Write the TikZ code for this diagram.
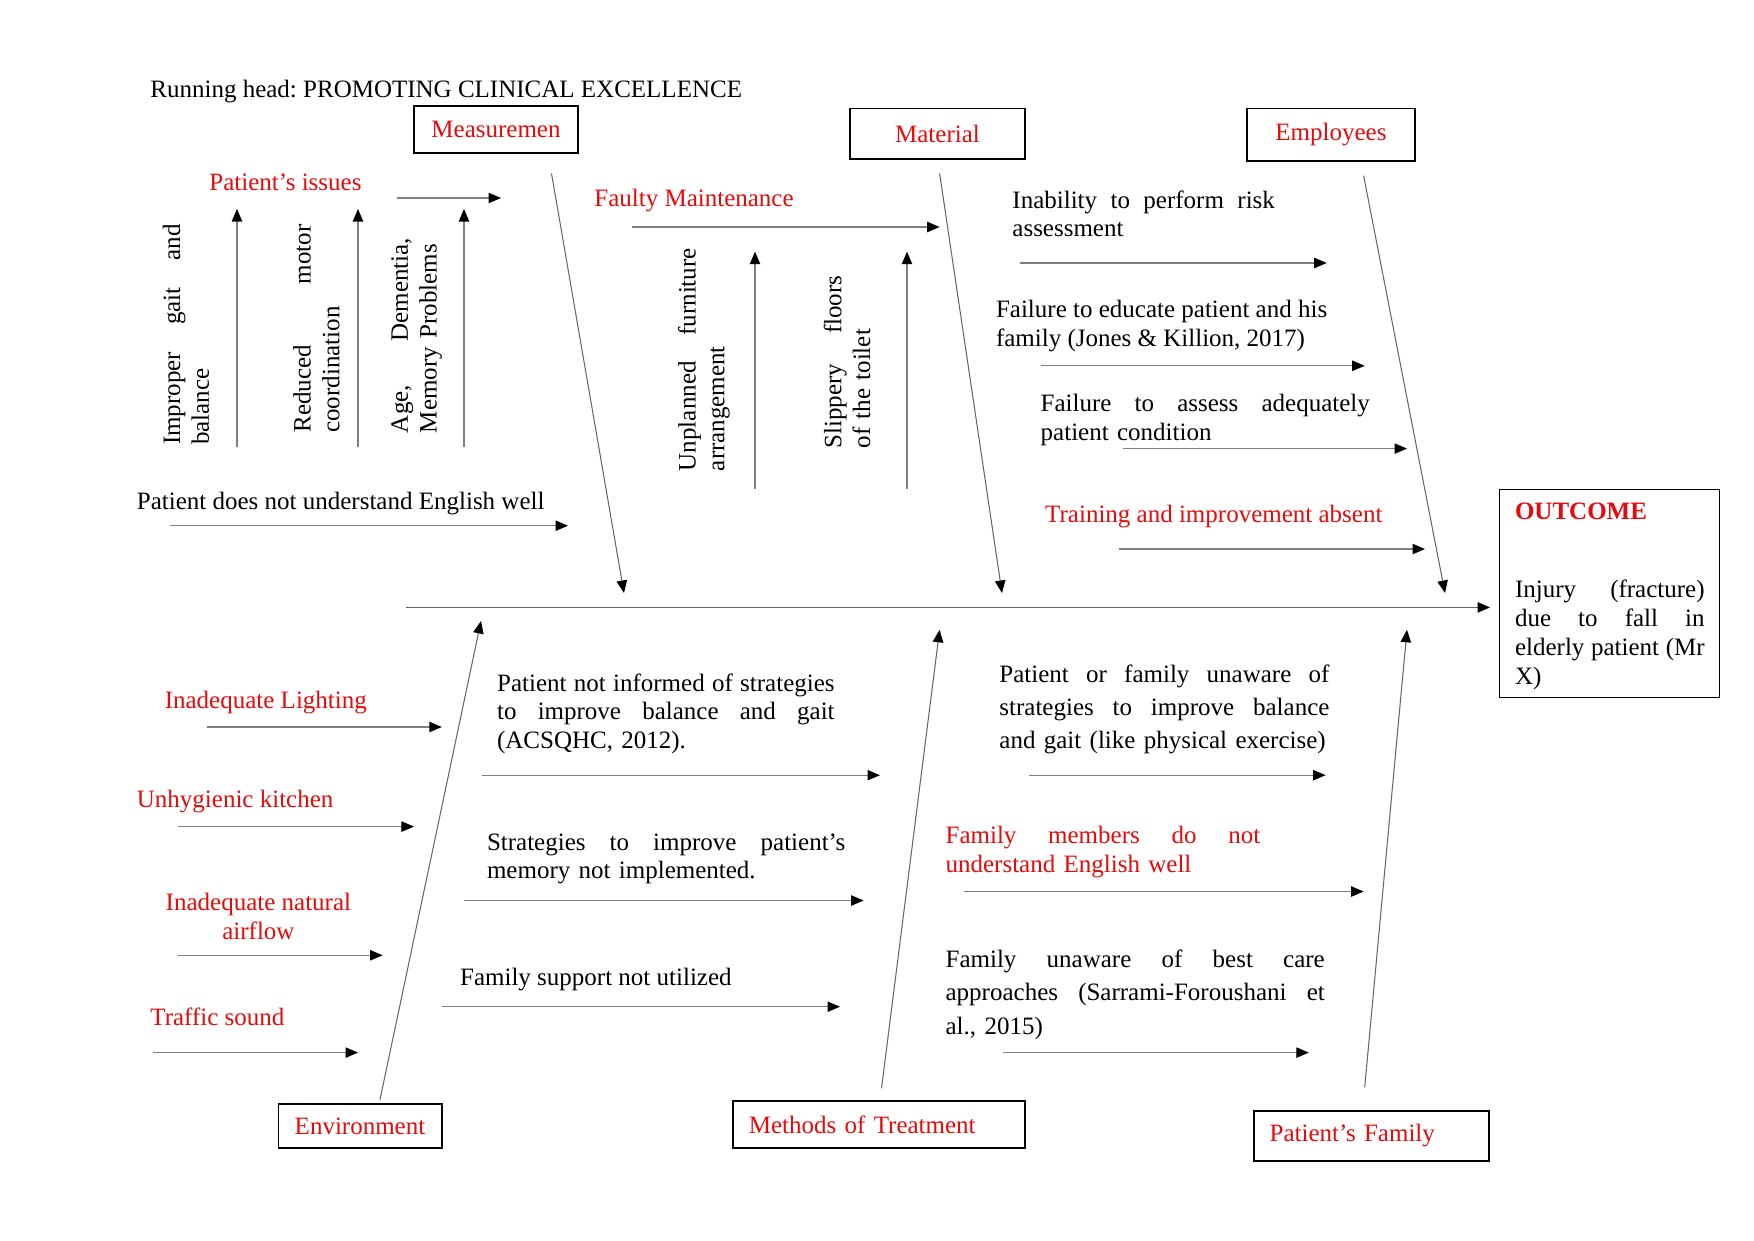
\documentclass[tikz,border=0pt]{standalone}
\usepackage{fontspec}
\setmainfont{Liberation Serif}
\usetikzlibrary{arrows.meta}
\definecolor{fbred}{RGB}{230,10,10}
\newcommand\ft{\fontsize{12}{13.8}\selectfont}
\newcommand\jline[1]{{\spaceskip=0pt\xspaceskip=0pt\makebox[\hsize][s]{#1}}}
\newcommand\harr[4]{\coordinate (#1a) at (#2,#4); \coordinate (#1b) at (#3,#4); \draw[conn] (#1a) -- (#1b);}
\newcommand\varr[4]{\coordinate (#1a) at (#2,#3); \coordinate (#1b) at (#2,#4); \draw[conn] (#1a) -- (#1b);}
\begin{document}
\frenchspacing
\begin{tikzpicture}[x=0.48pt,y=-0.48pt,
  every node/.style={font=\ft, inner sep=0pt},
  conn/.style={draw=black!50, line width=0.5pt, -{Triangle[length=6pt,width=5pt,color=black]}},
  bone/.style={draw=black!60, line width=0.5pt, -{Triangle[length=6pt,width=5pt,color=black]}},
  catbox/.style={draw=black, line width=0.7pt, text=fbred},
  txt/.style={anchor=north west, align=left}]
\useasboundingbox (0,0) rectangle (1754,1241);

% header
\node[anchor=west] (rh) at (150,92) {Running head: PROMOTING CLINICAL EXCELLENCE};

% category boxes
\node[catbox, minimum width=78.7pt, minimum height=22.6pt] (meas) at (496,129.5) {Measuremen};
\node[catbox, minimum width=84pt, minimum height=24.2pt] (mat) at (937.5,133.7) {Material};
\node[catbox, minimum width=80.6pt, minimum height=25.2pt] (emp) at (1331,134.7) {Employees};
\node[catbox, minimum width=78.5pt, minimum height=21pt] (env) at (360,1126) {Environment};
\node[catbox, minimum width=140pt, minimum height=22.6pt, text width=125pt, inner xsep=7.5pt, align=left] (meth) at (879,1124.5) {Methods of Treatment};
\node[catbox, minimum width=112.8pt, minimum height=24pt, text width=97.8pt, inner xsep=7.5pt, align=left] (pfam) at (1371.5,1136) {Patient’s Family};

% outcome
\node[draw, line width=0.7pt, minimum width=105.6pt, minimum height=99.8pt, anchor=north west] (out) at (1499,489) {};
\node[anchor=west, text=fbred, font=\ft\bfseries] (outt) at (1514.6,511) {OUTCOME};
\node[txt, text width=91pt, font=\fontsize{12}{14}\selectfont] (outb) at (1514.6,579.4) {\jline{Injury (fracture)}\\\jline{due to fall in}\\\jline{elderly patient (Mr}\\X)};

% spine
\coordinate (spA) at (406,607.4);
\coordinate (spB) at (1490,607.4);
\draw[bone] (spA) -- (spB);

% bones
\coordinate (b1a) at (551.5,173.4); \coordinate (b1b) at (624,593);
\coordinate (b2a) at (939.6,173.4); \coordinate (b2b) at (1002,593);
\coordinate (b3a) at (1363.6,175.6); \coordinate (b3b) at (1445,593);
\coordinate (b4a) at (380,1099.6); \coordinate (b4b) at (481,621);
\coordinate (b5a) at (881.5,1088.4); \coordinate (b5b) at (939.6,629.8);
\coordinate (b6a) at (1364.7,1087.3); \coordinate (b6b) at (1407,629.8);
\draw[bone] (b1a) -- (b1b);
\draw[bone] (b2a) -- (b2b);
\draw[bone] (b3a) -- (b3b);
\draw[bone] (b4a) -- (b4b);
\draw[bone] (b5a) -- (b5b);
\draw[bone] (b6a) -- (b6b);

% measurement branch
\node[anchor=west, text=fbred] (pi) at (209,182) {Patient’s issues};
\harr{pia}{397}{501}{198}
\varr{v1}{237}{447.4}{209}
\varr{v2}{358}{447.4}{209}
\varr{v3}{464}{447.4}{209}
\node[rotate=90, text width=106pt, align=left] (r1) at (186,334.5) {\jline{Improper gait and}\\balance};
\node[rotate=90, text width=100pt, align=left] (r2) at (316.5,328.5) {\jline{Reduced motor}\\coordination};
\node[rotate=90, text width=93.6pt, align=left] (r3) at (416.7,335.5) {\jline{Age, Dementia,}\\Memory Problems};
\node[anchor=west] (pe) at (136.5,503.5) {Patient does not understand English well};
\harr{pea}{170}{568}{525.7}

% material branch
\node[anchor=west, text=fbred] (fm) at (594,200.5) {Faulty Maintenance};
\harr{fma}{632}{939.6}{227}
\varr{v4}{755}{489}{251.7}
\varr{v5}{907}{489}{251.7}
\node[rotate=90, text width=107pt, align=left] (r4) at (704,359.6) {\jline{Unplanned furniture}\\arrangement};
\node[rotate=90, text width=83pt, align=left] (r5) at (847,362) {\jline{Slippery floors}\\of the toilet};

% employees branch
\node[txt, text width=126pt] (e1) at (1012,190) {\jline{Inability to perform risk}\\assessment};
\harr{ea}{1020}{1326.7}{263}
\node[txt] (e2) at (995.6,299.7) {Failure to educate patient and his\\family (Jones \& Killion, 2017)};
\harr{eb}{1041.4}{1364.7}{365.8}
\node[txt, text width=158pt] (e3) at (1040.3,393.7) {\jline{Failure to assess adequately}\\patient condition};
\harr{ec}{1123}{1407}{448.6}
\node[anchor=west, text=fbred] (e4) at (1044.8,517) {Training and improvement absent};
\harr{ed}{1118.6}{1425}{549}

% environment branch
\node[anchor=west, text=fbred] (n1) at (164.4,702.5) {Inadequate Lighting};
\harr{n1a}{207}{441.8}{727}
\node[anchor=west, text=fbred] (n2) at (136.5,802) {Unhygienic kitchen};
\harr{n2a}{177.9}{413.9}{826.6}
\node[anchor=north, text=fbred, align=center] (n3) at (258.4,892.6) {Inadequate natural\\airflow};
\harr{n3a}{177.9}{382.6}{955.3}
\node[anchor=west, text=fbred] (n4) at (150,1017) {Traffic sound};
\harr{n4a}{153.3}{358}{1052.6}

% methods branch
\node[txt, text width=162pt] (m1) at (496.7,673) {\jline{Patient not informed of strategies}\\\jline{to improve balance and gait}\\(ACSQHC, 2012).};
\harr{m1a}{482}{880}{775.2}
\node[txt, text width=172pt] (m2) at (486.6,833) {\jline{Strategies to improve patient’s}\\memory not implemented.};
\harr{m2a}{464.2}{863.6}{900.5}
\node[anchor=west] (m3) at (459.7,980) {Family support not utilized};
\harr{m3a}{441.8}{840}{1006.7}

% patient's family branch
\node[txt, text width=158.4pt, font=\fontsize{12}{15.85}\selectfont] (f1) at (999,664) {\jline{Patient or family unaware of}\\\jline{strategies to improve balance}\\and gait (like physical exercise)};
\harr{f1a}{1029}{1325.6}{775.2}
\node[txt, text width=151pt, text=fbred] (f2) at (945.2,825.5) {\jline{Family members do not}\\understand English well};
\harr{f2a}{964.2}{1363.6}{891.5}
\node[txt, text width=182pt, font=\fontsize{12}{16}\selectfont] (f3) at (945.2,949.6) {\jline{Family unaware of best care}\\\jline{approaches (Sarrami-Foroushani et}\\al., 2015)};
\harr{f3a}{1003.4}{1308.8}{1052.6}
\end{tikzpicture}
\end{document}
